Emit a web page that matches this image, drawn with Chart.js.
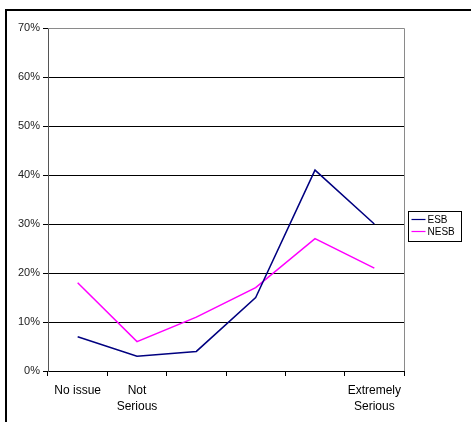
<!DOCTYPE html>
<html>
<head>
<meta charset="utf-8">
<script src="https://cdn.jsdelivr.net/npm/chart.js@4/dist/chart.umd.min.js"></script>
<style>
  html, body { margin: 0; padding: 0; background: #fff; }
  #wrap { width: 471px; height: 422px; position: relative; }
</style>
</head>
<body>
<div id="wrap"><canvas id="c" width="471" height="422"></canvas></div>
<script>
// Perceived seriousness of the issue, by language background
const categories = ['No issue', ['Not', 'Serious'], '', '', '', ['Extremely', 'Serious']];
const esbValues = [7, 3, 4, 15, 41, 30];
const nesbValues = [18, 6, 11, 17, 27, 21];
const yTicks = [0, 10, 20, 30, 40, 50, 60, 70];

const FONT = '"Liberation Sans", Arial, sans-serif';

// Outer frame, plot-area edges and the boxed legend
const framePlugin = {
  id: 'frame',
  beforeDraw(chart) {
    const ctx = chart.ctx;
    ctx.save();
    ctx.fillStyle = '#fff';
    ctx.fillRect(0, 0, chart.width, chart.height);
    ctx.strokeStyle = '#000';
    ctx.lineWidth = 2;
    ctx.beginPath();
    ctx.moveTo(6, chart.height + 2);
    ctx.lineTo(6, 10);
    ctx.lineTo(chart.width + 2, 10);
    ctx.stroke();
    ctx.restore();
  },
  afterDatasetsDraw(chart) {
    const ctx = chart.ctx;
    const a = chart.chartArea;
    ctx.save();
    ctx.strokeStyle = '#8a8a8a';
    ctx.lineWidth = 1;
    ctx.beginPath();
    ctx.moveTo(a.left, a.top + 0.5);
    ctx.lineTo(a.right + 0.5, a.top + 0.5);
    ctx.lineTo(a.right + 0.5, a.bottom);
    ctx.stroke();

    // legend
    const bx = 408.5, by = 211.5, bw = 53, bh = 30;
    ctx.strokeStyle = '#000';
    ctx.strokeRect(bx, by, bw, bh);
    ctx.font = '10px ' + FONT;
    ctx.textBaseline = 'middle';
    ctx.textAlign = 'left';
    chart.data.datasets.forEach((ds, i) => {
      const y = by + 8 + i * 12;
      ctx.strokeStyle = ds.borderColor;
      ctx.lineWidth = 1.2;
      ctx.beginPath();
      ctx.moveTo(bx + 3, y);
      ctx.lineTo(bx + 17, y);
      ctx.stroke();
      ctx.fillStyle = '#000';
      ctx.fillText(ds.label, bx + 19, y + 0.5);
    });
    ctx.restore();
  }
};

new Chart(document.getElementById('c'), {
  type: 'line',
  data: {
    labels: categories,
    datasets: [
      { label: 'ESB', data: esbValues, borderColor: '#000080', backgroundColor: '#000080',
        borderWidth: 1.5, pointRadius: 0, tension: 0, fill: false },
      { label: 'NESB', data: nesbValues, borderColor: '#ff00ff', backgroundColor: '#ff00ff',
        borderWidth: 1.5, pointRadius: 0, tension: 0, fill: false }
    ]
  },
  options: {
    responsive: false,
    animation: false,
    devicePixelRatio: 1,
    layout: { padding: { left: 0, top: 28, right: 67, bottom: 0 } },
    plugins: { legend: { display: false }, tooltip: { enabled: false } },
    scales: {
      x: {
        offset: true,
        grid: { offset: true, drawOnChartArea: false, drawTicks: true, tickLength: 5, color: '#000', lineWidth: 1 },
        border: { display: true, color: '#000', width: 1 },
        ticks: { color: '#000', font: { family: FONT, size: 12, lineHeight: 1.33 }, padding: 7, maxRotation: 0, autoSkip: false },
        afterFit(scale) { scale.height = 51; }
      },
      y: {
        min: 0, max: 70,
        afterBuildTicks(scale) { scale.ticks = yTicks.map(v => ({ value: v })); },
        grid: { color: ctx => ctx.tick && ctx.tick.value === 70 ? 'rgba(0,0,0,0)' : '#000', lineWidth: 1, tickLength: 5, tickColor: '#000' },
        border: { display: true, color: '#555', width: 1 },
        ticks: { color: '#222', font: { family: FONT, size: 11 }, padding: 3, callback: v => v + '%' },
        afterFit(scale) { scale.width = 48; }
      }
    }
  },
  plugins: [framePlugin]
});
</script>
</body>
</html>
